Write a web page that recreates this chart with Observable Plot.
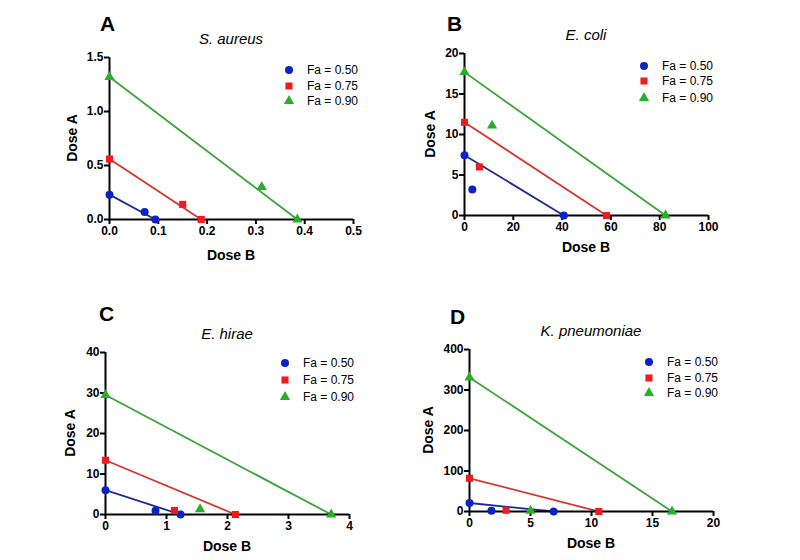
<!DOCTYPE html>
<html>
<head>
<meta charset="utf-8">
<script src="https://cdn.jsdelivr.net/npm/d3@7"></script>
<script src="https://cdn.jsdelivr.net/npm/@observablehq/plot@0.6"></script>
<style>
  body { margin: 0; background: #fff; }
  #fig { position: relative; width: 800px; height: 560px; font-family: "Liberation Sans", Arial, sans-serif; color: #000; overflow: hidden; }
  #fig .abs { position: absolute; white-space: nowrap; line-height: 1; }
  #fig .letter { font-size: 21px; font-weight: bold; }
  #fig .title { font-size: 15px; font-style: italic; transform: translate(-50%, -50%); }
  #fig .xlabel { font-size: 14px; font-weight: bold; transform: translate(-50%, -50%); }
  #fig .ylabel { font-size: 14px; font-weight: bold; transform: translate(-50%, -50%) rotate(-90deg); }
  #fig .legend-row { font-size: 12px; display: flex; align-items: center; transform: translateY(-50%); }
  #fig .legend-row svg { overflow: visible; margin-right: 13px; }
  #fig svg.plot-panel { position: absolute; overflow: visible; background: transparent; }
</style>
</head>
<body>
<div id="fig"></div>
<script>
// Effect levels (fraction affected) shown in every panel
const fractions = ["Fa = 0.50", "Fa = 0.75", "Fa = 0.90"];
const symbols = ["circle", "square", "triangle"];
const markerColors = ["#0b22c4", "#ee1c1c", "#25b025"];
const lineColors = ["#1f2b8f", "#d9352f", "#3aa63a"];

// S. aureus: Dose B (x) and Dose A (y), one row per effect level
const aureusDoseB = [[0, 0.072, 0.094], [0, 0.150, 0.188], [0, 0.312, 0.385]];
const aureusDoseA = [[0.23, 0.07, 0], [0.56, 0.14, 0], [1.32, 0.30, 0]];
const aureusXTicks = [0, 0.1, 0.2, 0.3, 0.4, 0.5];
const aureusYTicks = [0, 0.5, 1.0, 1.5];

// E. coli
const coliDoseB = [[0, 3.2, 40.7], [0, 6.1, 58.2], [0, 11.3, 82.4]];
const coliDoseA = [[7.45, 3.2, 0], [11.5, 6.0, 0], [17.7, 11.1, 0]];
const coliXTicks = [0, 20, 40, 60, 80, 100];
const coliYTicks = [0, 5, 10, 15, 20];

// E. hirae
const hiraeDoseB = [[0, 0.82, 1.23], [0, 1.13, 2.13], [0, 1.55, 3.70]];
const hiraeDoseA = [[6.0, 0.9, 0], [13.4, 1.0, 0], [29.5, 1.3, 0]];
const hiraeXTicks = [0, 1, 2, 3, 4];
const hiraeYTicks = [0, 10, 20, 30, 40];

// K. pneumoniae
const pneumoniaeDoseB = [[0, 1.8, 6.9], [0, 3.0, 10.6], [0, 5.0, 16.6]];
const pneumoniaeDoseA = [[21, 2, 0], [82, 3, 0], [331, 2, 0]];
const pneumoniaeXTicks = [0, 5, 10, 15, 20];
const pneumoniaeYTicks = [0, 100, 200, 300, 400];

// Panel layout (plot-area origin in page pixels, panel letter position)
const panels = [
  {letter: "A", title: "S. aureus", doseB: aureusDoseB, doseA: aureusDoseA, xTicks: aureusXTicks, yTicks: aureusYTicks, fmt: d3.format(".1f"),
   left: 109, top: 57, letterX: 100, letterY: 13, legendDy: [13, 29, 44], xLabelDy: 36, yLabelDx: -37},
  {letter: "B", title: "E. coli", doseB: coliDoseB, doseA: coliDoseA, xTicks: coliXTicks, yTicks: coliYTicks, fmt: d3.format("d"),
   left: 464, top: 53, letterX: 447, letterY: 13, legendDy: [13, 28, 45], xLabelDy: 32, yLabelDx: -34},
  {letter: "C", title: "E. hirae", doseB: hiraeDoseB, doseA: hiraeDoseA, xTicks: hiraeXTicks, yTicks: hiraeYTicks, fmt: d3.format("d"),
   left: 105, top: 352, letterX: 99, letterY: 303, legendDy: [11, 28, 45], xLabelDy: 32, yLabelDx: -35},
  {letter: "D", title: "K. pneumoniae", doseB: pneumoniaeDoseB, doseA: pneumoniaeDoseA, xTicks: pneumoniaeXTicks, yTicks: pneumoniaeYTicks, fmt: d3.format("d"),
   left: 469, top: 349, letterX: 450, letterY: 306, legendDy: [13, 29, 44], xLabelDy: 32, yLabelDx: -41}
];

const W = 244, H = 162;            // plot area
const mL = 50, mR = 8, mT = 10, mB = 30;
const markerR = [4, 4, 3.8];

const fig = document.getElementById("fig");

function addDiv(cls, text, x, y) {
  const d = document.createElement("div");
  d.className = "abs " + cls;
  d.textContent = text;
  d.style.left = x + "px";
  d.style.top = y + "px";
  fig.appendChild(d);
  return d;
}

function symbolPath(i) {
  const type = [d3.symbolCircle, d3.symbolSquare, d3.symbolTriangle][i];
  return d3.symbol().type(type).size(Math.PI * markerR[i] * markerR[i])();
}

for (const p of panels) {
  const marks = [];
  // Isobole lines: from Dose A alone (x = 0) to Dose B alone (y = 0)
  p.doseB.forEach((bs, i) => {
    const rows = bs.map((b, j) => ({b, a: p.doseA[i][j], fa: fractions[i]}));
    marks.push(Plot.line([rows[0], rows[rows.length - 1]], {x: "b", y: "a", stroke: lineColors[i], strokeWidth: 1.8}));
  });
  // Axis lines and ticks
  marks.push(Plot.ruleX([0], {stroke: "#000", strokeWidth: 2}));
  marks.push(Plot.ruleY([0], {stroke: "#000", strokeWidth: 2}));
  marks.push(Plot.axisX(p.xTicks, {tickSize: 5, tickPadding: 2, strokeWidth: 2, tickFormat: p.fmt, label: null, fontSize: 12, fontWeight: "bold"}));
  marks.push(Plot.axisY(p.yTicks, {tickSize: 5, tickPadding: 1, strokeWidth: 2, tickFormat: p.fmt, label: null, fontSize: 12, fontWeight: "bold"}));
  // Measured combinations
  p.doseB.forEach((bs, i) => {
    const rows = bs.map((b, j) => ({b, a: p.doseA[i][j], fa: fractions[i]}));
    marks.push(Plot.dot(rows, {x: "b", y: "a", symbol: symbols[i], r: markerR[i], fill: markerColors[i], stroke: "none"}));
  });

  const svg = Plot.plot({
    width: W + mL + mR,
    height: H + mT + mB,
    marginLeft: mL, marginRight: mR, marginTop: mT, marginBottom: mB,
    x: {domain: [p.xTicks[0], p.xTicks[p.xTicks.length - 1]]},
    y: {domain: [p.yTicks[0], p.yTicks[p.yTicks.length - 1]]},
    style: {fontFamily: "'Liberation Sans', Arial, sans-serif", fontSize: "12px", fontWeight: "bold", color: "#000", background: "transparent", overflow: "visible"},
    marks
  });
  svg.classList.add("plot-panel");
  svg.style.left = (p.left - mL) + "px";
  svg.style.top = (p.top - mT) + "px";
  fig.appendChild(svg);

  addDiv("letter", p.letter, p.letterX, p.letterY);
  addDiv("title", p.title, p.left + W / 2, p.top - 19);
  addDiv("xlabel", "Dose B", p.left + W / 2, p.top + H + p.xLabelDy);
  addDiv("ylabel", "Dose A", p.left + p.yLabelDx, p.top + H / 2);

  // Legend
  fractions.forEach((f, i) => {
    const row = document.createElement("div");
    row.className = "abs legend-row";
    row.style.left = (p.left + 175) + "px";
    row.style.top = (p.top + p.legendDy[i]) + "px";
    const ns = "http://www.w3.org/2000/svg";
    const s = document.createElementNS(ns, "svg");
    s.setAttribute("width", 10);
    s.setAttribute("height", 10);
    s.setAttribute("viewBox", "-5 -5 10 10");
    const path = document.createElementNS(ns, "path");
    path.setAttribute("d", symbolPath(i));
    path.setAttribute("fill", markerColors[i]);
    s.appendChild(path);
    row.appendChild(s);
    const span = document.createElement("span");
    span.textContent = f;
    row.appendChild(span);
    fig.appendChild(row);
  });
}
</script>
</body>
</html>
